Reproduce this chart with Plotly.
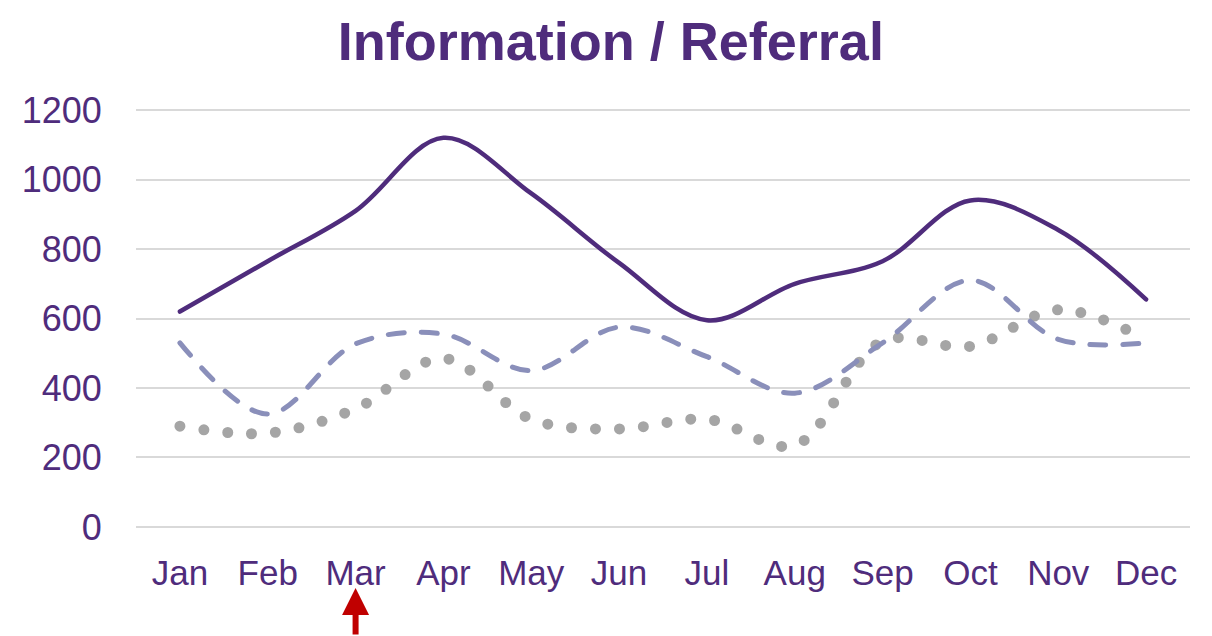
import plotly.graph_objects as go

months = ["Jan", "Feb", "Mar", "Apr", "May", "Jun", "Jul", "Aug", "Sep", "Oct", "Nov", "Dec"]
series_solid = [620, 765, 910, 1120, 960, 760, 595, 700, 765, 940, 855, 655]
series_dash = [530, 325, 527, 555, 450, 575, 490, 385, 530, 710, 540, 530]
series_dot = [290, 270, 340, 485, 310, 282, 310, 235, 535, 520, 625, 540]
y_ticks = [0, 200, 400, 600, 800, 1000, 1200]
title_text = "Information / Referral"
highlight_month = "Mar"

PURPLE = "#4F2C7C"
FONT = "Liberation Sans, Arial, sans-serif"

fig = go.Figure()
fig.add_trace(go.Scatter(x=months, y=series_dot, mode="lines",
                         line=dict(color="#A5A5A5", width=11, dash="0px,24px", shape="spline", smoothing=1),
                         showlegend=False, hoverinfo="skip"))
fig.add_trace(go.Scatter(x=months, y=series_dash, mode="lines",
                         line=dict(color="#8A8FBA", width=5, dash="16px,17px", shape="spline", smoothing=1),
                         showlegend=False, hoverinfo="skip"))
fig.add_trace(go.Scatter(x=months, y=series_solid, mode="lines",
                         line=dict(color=PURPLE, width=4.5, shape="spline", smoothing=1),
                         showlegend=False, hoverinfo="skip"))

fig.update_layout(
    width=1212, height=636,
    margin=dict(l=136, r=22, t=108, b=107, autoexpand=False),
    paper_bgcolor="white", plot_bgcolor="white",
    title=dict(text="<b>" + title_text + "</b>", x=0.504, xanchor="center", y=0.935, yanchor="middle",
               font=dict(family=FONT, size=54, color=PURPLE)),
    font=dict(family=FONT, color=PURPLE),
)
fig.update_xaxes(range=[-0.5, 11.5], showgrid=False, showline=False, zeroline=False,
                 tickfont=dict(size=35, color=PURPLE),
                 ticks="outside", ticklen=13, tickcolor="rgba(0,0,0,0)")
fig.update_yaxes(range=[-6, 1206], tickvals=y_ticks, showgrid=True, gridcolor="#D9D9D9", gridwidth=2,
                 zeroline=False, showline=False, tickfont=dict(size=36, color=PURPLE),
                 ticks="outside", ticklen=26, tickcolor="rgba(0,0,0,0)")

fig.add_annotation(x=highlight_month, xref="x", y=-0.14, yref="paper", text="", showarrow=True,
                   ax=0, ay=60, arrowhead=2, arrowwidth=6, arrowsize=0.9, arrowcolor="#C00000")

post = """
var s=document.createElement('style');
s.innerHTML='body{margin:0;overflow:hidden;} .js-line{stroke-linecap:round !important;}';
document.head.appendChild(s);
"""
fig.write_html("out.html", post_script=post, config={"displayModeBar": False})
